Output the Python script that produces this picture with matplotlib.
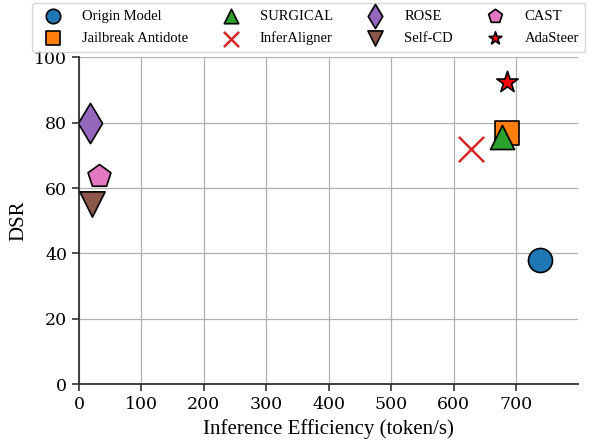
import matplotlib
matplotlib.use("Agg")
import matplotlib.pyplot as plt

plt.rcParams['font.family'] = ['Liberation Serif', 'DejaVu Serif']

methods = ["Origin Model", "Jailbreak Antidote", "SURGICAL", "InferAligner",
           "ROSE", "Self-CD", "CAST", "AdaSteer"]
efficiency = [739, 686, 678, 628, 18, 21, 32, 686]
dsr = [38.1, 76.8, 75.7, 71.9, 80.0, 55.0, 63.6, 92.5]
markers = ["o", "s", "^", "x", "d", "v", "p", "*"]
colors = ["#1f77b4", "#ff7f0e", "#2ca02c", "#d62728", "#9467bd", "#8c564b", "#e377c2", "#ff0000"]
sizes = [300, 300, 300, 330, 420, 330, 300, 260]

fig = plt.figure(figsize=(5.89, 4.43), dpi=100)
ax = fig.add_axes([0.134, 0.1325, 0.847, 0.7385])

for m, x, y, mk, c, s in zip(methods, efficiency, dsr, markers, colors, sizes):
    if mk == "x":
        ax.scatter(x, y, marker=mk, s=s, c=c, linewidths=1.8, label=m, zorder=3)
    else:
        ax.scatter(x, y, marker=mk, s=s, c=c, edgecolors="black", linewidths=1.2, label=m, zorder=3)

ax.set_xlim(0, 799)
ax.set_ylim(0, 100)
ax.set_xticks([0, 100, 200, 300, 400, 500, 600, 700])
ax.set_yticks([0, 20, 40, 60, 80, 100])
ax.grid(True, color="#b0b0b0", linewidth=0.9)
ax.set_axisbelow(True)
for side in ["top", "right"]:
    ax.spines[side].set_visible(False)
for side in ["left", "bottom"]:
    ax.spines[side].set_color("#333333")
    ax.spines[side].set_linewidth(1.3)
ax.tick_params(labelsize=12.5, direction="out", length=5, width=1.2, color="#333333")
for lab in ax.get_xticklabels() + ax.get_yticklabels():
    lab.set_fontfamily("DejaVu Serif")
ax.set_xlabel("Inference Efficiency (token/s)", fontsize=15)
ax.set_ylabel("DSR", fontsize=15)

fig.legend(loc="upper center", bbox_to_anchor=(0.524, 0.993), ncol=4, fontsize=10.5,
           frameon=True, edgecolor="#cccccc", handletextpad=1.0, columnspacing=1.9,
           markerscale=0.6, borderpad=0.45, labelspacing=0.6, borderaxespad=0)

fig.savefig("out.png", dpi=100)
